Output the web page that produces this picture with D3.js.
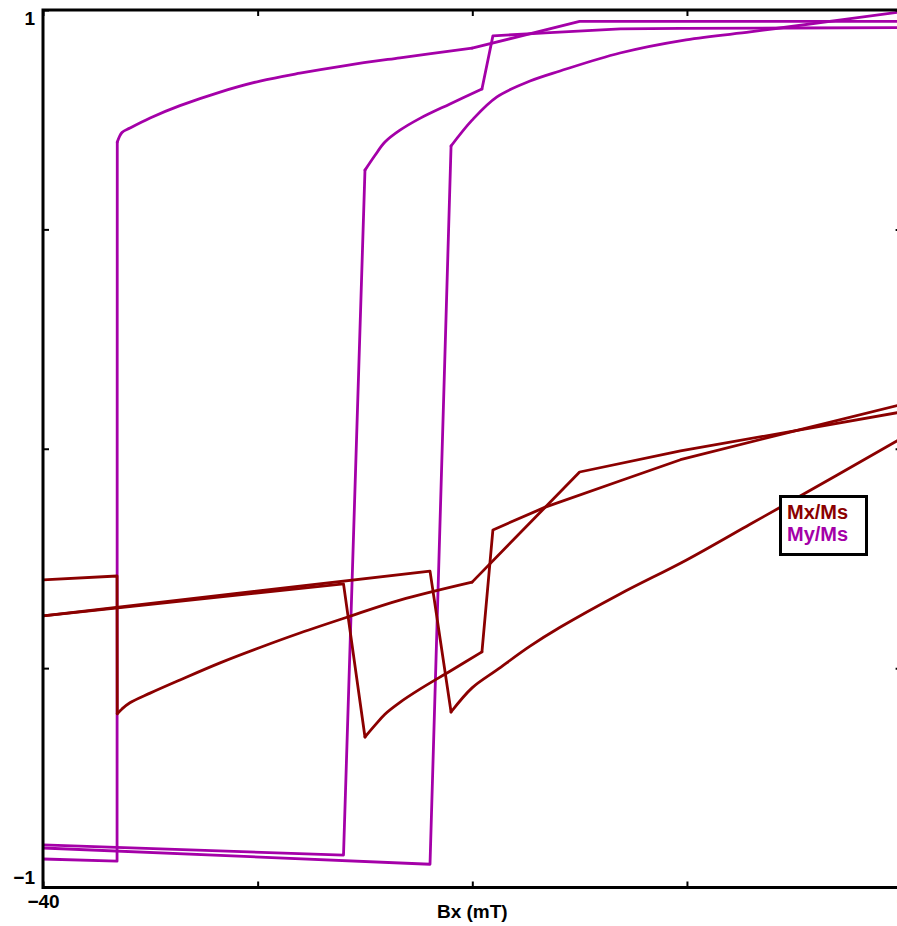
<!DOCTYPE html>
<html>
<head>
<meta charset="utf-8">
<script src="https://cdn.jsdelivr.net/npm/d3@7"></script>
<style>
  html, body { margin: 0; padding: 0; background: #fff; overflow: hidden; }
  svg { display: block; }
  text { font-family: "Liberation Sans", Arial, Helvetica, sans-serif; font-weight: bold; }
</style>
</head>
<body>
<svg id="chart" width="897" height="926"></svg>
<script>
// ---- data ----
// Branch 1: switching near Bx = -36.5 mT
const bx1 = [-40, -36.55, -36.54, -36.32, -35.95, -35.01, -33.62, -31.75, -29.89, -28.03, -25.84, -23.37, -20.01, -15.0, -10.3, 0];
const mx1 = [-0.299, -0.290, -0.604, -0.593, -0.579, -0.557, -0.527, -0.488, -0.453, -0.420, -0.384, -0.345, -0.304, -0.053, -0.005, 0.084];
const my1 = [-0.935, -0.940, 0.699, 0.721, 0.731, 0.754, 0.782, 0.813, 0.838, 0.856, 0.874, 0.891, 0.913, 0.974, 0.974, 0.974];

// Branch 2: switching near Bx = -26 mT
const bx2 = [-40, -26.0, -25.0, -24.53, -24.07, -23.37, -22.44, -21.04, -19.55, -19.04, -16.6, -13.1, -10.3, -5.2, 0];
const mx2 = [-0.381, -0.308, -0.657, -0.630, -0.605, -0.578, -0.548, -0.507, -0.463, -0.185, -0.133, -0.073, -0.025, 0.038, 0.101];
const my2 = [-0.903, -0.926, 0.635, 0.669, 0.699, 0.726, 0.753, 0.786, 0.820, 0.941, 0.948, 0.957, 0.958, 0.959, 0.960];

// Branch 3: switching near Bx = -22 mT
const bx3 = [-40, -21.97, -20.99, -20.01, -18.85, -17.31, -15.91, -13.12, -10.04, -7.06, -5.67, 0];
const mx3 = [-0.381, -0.279, -0.600, -0.545, -0.504, -0.450, -0.407, -0.331, -0.254, -0.172, -0.134, 0.024];
const my3 = [-0.910, -0.947, 0.690, 0.749, 0.802, 0.838, 0.861, 0.902, 0.932, 0.950, 0.959, 0.996];

// index ranges of the smoothly curving part of each branch (after the switch)
const smoothRanges = [[2, 12], [2, 8], [2, 11]];

const xTicks = [-40, -30, -20, -10, 0];
const yTicks = [-1, -0.5, 0, 0.5, 1];
const xTickLabels = {"-40": "\u221240", "0": "0"};
const yTickLabels = {"-1": "\u22121", "1": "1"};
const xLabel = "Bx (mT)";
const seriesNames = ["Mx/Ms", "My/Ms"];
const seriesColors = ["#8b0000", "#a400a8"];

// ---- layout ----
const pL = 43, pR = 901.6, pT = 10, pB = 887.5;
const svg = d3.select("#chart");
const x = d3.scaleLinear().domain([-40, 0]).range([pL, pR]);
const y = d3.scaleLinear().domain([-1, 1]).range([pB, pT]);

svg.append("defs").append("clipPath").attr("id", "clip")
  .append("rect").attr("x", pL).attr("y", pT).attr("width", pR - pL).attr("height", pB - pT);

const plot = svg.append("g").attr("clip-path", "url(#clip)");
const lineLin = d3.line().x(d => x(d[0])).y(d => y(d[1]));
const lineSmooth = d3.line().x(d => x(d[0])).y(d => y(d[1])).curve(d3.curveCatmullRom.alpha(0.5));
const zip = (a, b) => a.map((v, i) => [v, b[i]]);

const branches = [[bx1, mx1, my1], [bx2, mx2, my2], [bx3, mx3, my3]];

function drawBranch(pts, range, color) {
  const [s, e] = range;
  const parts = [
    [lineLin, pts.slice(0, s + 1)],
    [lineSmooth, pts.slice(s, e + 1)],
    [lineLin, pts.slice(e)]
  ];
  parts.forEach(([gen, p]) => {
    if (p.length < 2) return;
    plot.append("path").attr("d", gen(p))
      .attr("fill", "none").attr("stroke", color).attr("stroke-width", 2.8)
      .attr("stroke-linejoin", "round").attr("stroke-linecap", "round");
  });
}
// My first, Mx on top
branches.forEach(([bx, mx, my], i) => drawBranch(zip(bx, my), smoothRanges[i], seriesColors[1]));
branches.forEach(([bx, mx, my], i) => drawBranch(zip(bx, mx), smoothRanges[i], seriesColors[0]));

// ---- axes (ticks inward) ----
const tickLen = 6;
function styleAxis(g) {
  g.select(".domain").remove();
  g.selectAll(".tick line").attr("stroke", "#000").attr("stroke-width", 2);
}
svg.append("g").attr("transform", `translate(0,${pB})`)
  .call(d3.axisBottom(x).tickValues(xTicks).tickSize(-tickLen).tickPadding(8)
    .tickFormat(d => xTickLabels[String(d)] || ""))
  .call(styleAxis)
  .call(g => g.selectAll(".tick text").attr("font-size", 19).attr("fill", "#000")
    .attr("font-family", null).attr("dy", null).attr("y", 20));
svg.append("g").attr("transform", `translate(0,${pT})`)
  .call(d3.axisTop(x).tickValues(xTicks).tickSize(-tickLen).tickFormat(""))
  .call(styleAxis);
svg.append("g").attr("transform", `translate(${pL},0)`)
  .call(d3.axisLeft(y).tickValues(yTicks).tickSize(-tickLen).tickPadding(8)
    .tickFormat(d => yTickLabels[String(d)] || ""))
  .call(styleAxis)
  .call(g => g.selectAll(".tick text").attr("font-size", 19).attr("fill", "#000")
    .attr("font-family", null).attr("x", -8)
    .attr("dy", d => d === 1 ? "14px" : (d === -1 ? "-4.5px" : "0.32em")));
svg.append("g").attr("transform", `translate(${pR},0)`)
  .call(d3.axisRight(y).tickValues(yTicks).tickSize(-tickLen).tickFormat(""))
  .call(styleAxis);

// frame
svg.append("rect").attr("x", pL).attr("y", pT).attr("width", pR - pL).attr("height", pB - pT)
  .attr("fill", "none").attr("stroke", "#000").attr("stroke-width", 3);

// axis label
svg.append("text").attr("x", x(-20)).attr("y", 918).attr("text-anchor", "middle")
  .attr("font-size", 19).attr("fill", "#000").text(xLabel);

// legend
const lg = svg.append("g");
lg.append("rect").attr("x", 780.5).attr("y", 496.5).attr("width", 86).attr("height", 58)
  .attr("fill", "#fff").attr("stroke", "#000").attr("stroke-width", 3);
seriesNames.forEach((name, i) => {
  lg.append("text").attr("x", 787).attr("y", 518.5 + i * 22.5)
    .attr("font-size", 20).attr("fill", seriesColors[i]).text(name);
});
</script>
</body>
</html>
